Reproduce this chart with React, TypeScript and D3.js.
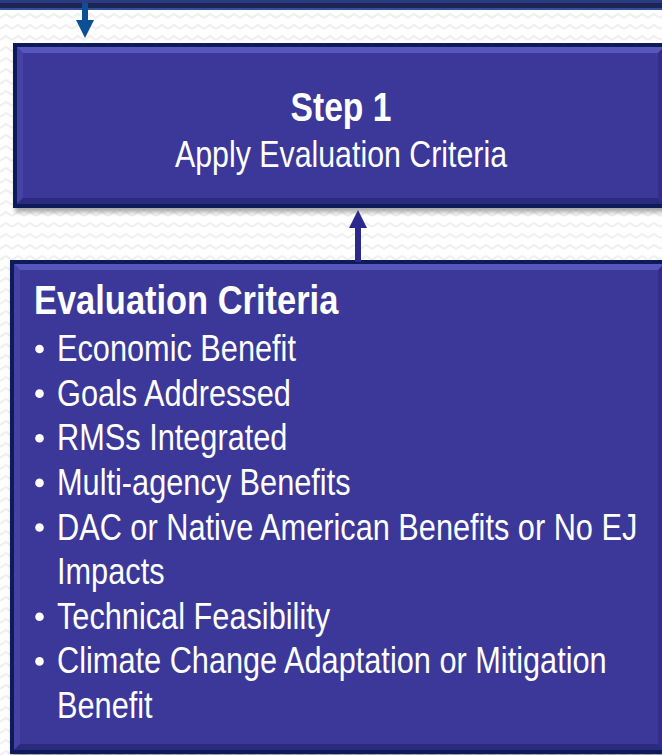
import React, { useEffect, useRef } from 'react';
import * as d3 from 'd3';

const stepTitle = "Step 1";
const stepSubtitle = "Apply Evaluation Criteria";
const criteriaHeading = "Evaluation Criteria";
// each criterion, wrapped the way the slide wraps it
const criteria = [
    ["Economic Benefit"],
    ["Goals Addressed"],
    ["RMSs Integrated"],
    ["Multi-agency Benefits"],
    ["DAC or Native American Benefits or No EJ", "Impacts"],
    ["Technical Feasibility"],
    ["Climate Change Adaptation or Mitigation", "Benefit"],
];

// no narrow font installed, so squeeze Liberation Sans (Arial metrics) sideways
const FONT = "'Liberation Sans', Arial, sans-serif";
const NARROW = 0.82;

function App() {
    const svgRef = useRef<SVGSVGElement>(null);
    const width = 662;
    const height = 755;

    useEffect(() => {
        const svg = d3.select(svgRef.current)
            .attr("width", width)
            .attr("height", height)
            .attr("viewBox", [0, 0, width, height]);

        svg.selectAll("*").remove();

        // background zigzag texture
        const defs = svg.append("defs");
        const pat = defs.append("pattern")
            .attr("id", "zig")
            .attr("width", 12)
            .attr("height", 11)
            .attr("patternUnits", "userSpaceOnUse");
        pat.append("rect").attr("width", 12).attr("height", 11).attr("fill", "#ffffff");
        pat.append("path")
            .attr("d", "M0,7 L6,3 L12,7")
            .attr("fill", "none")
            .attr("stroke", "#efefef")
            .attr("stroke-width", 2);

        const shadow = defs.append("filter").attr("id", "shadow")
            .attr("x", "-5%").attr("y", "-5%").attr("width", "115%").attr("height", "120%");
        shadow.append("feDropShadow")
            .attr("dx", 2).attr("dy", 4).attr("stdDeviation", 2)
            .attr("flood-color", "#000").attr("flood-opacity", 0.35);

        svg.append("rect").attr("width", width).attr("height", height).attr("fill", "url(#zig)");

        // bevelled box
        function box(x0: number, y0: number, x1: number, y1: number) {
            const g = svg.append("g").attr("filter", "url(#shadow)");
            const b = 4; // dark border
            const v = 6; // bevel depth
            g.append("rect")
                .attr("x", x0).attr("y", y0)
                .attr("width", x1 - x0).attr("height", y1 - y0)
                .attr("fill", "#0c1f58");
            const ix0 = x0 + b, iy0 = y0 + b, ix1 = x1 - b, iy1 = y1 - b;
            g.append("rect")
                .attr("x", ix0).attr("y", iy0)
                .attr("width", ix1 - ix0).attr("height", iy1 - iy0)
                .attr("fill", "#3a3899");
            const poly = (pts: number[][], fill: string) =>
                g.append("polygon").attr("points", pts.map(p => p.join(",")).join(" ")).attr("fill", fill);
            poly([[ix0, iy0], [ix1, iy0], [ix1 - v, iy0 + v], [ix0 + v, iy0 + v]], "#5756bd");
            poly([[ix0, iy0], [ix0 + v, iy0 + v], [ix0 + v, iy1 - v], [ix0, iy1]], "#4443a6");
            poly([[ix0, iy1], [ix0 + v, iy1 - v], [ix1 - v, iy1 - v], [ix1, iy1]], "#2b2a7e");
            poly([[ix1, iy0], [ix1, iy1], [ix1 - v, iy1 - v], [ix1 - v, iy0 + v]], "#302f88");
            return g;
        }

        // bottom edge of the previous box
        svg.append("rect").attr("x", 0).attr("y", -10).attr("width", width).attr("height", 20).attr("fill", "#1b2657");
        svg.append("rect").attr("x", 0).attr("y", 0).attr("width", width).attr("height", 3).attr("fill", "#2c3c84");
        svg.append("rect").attr("x", 0).attr("y", 8).attr("width", width).attr("height", 2).attr("fill", "#35509a");

        // arrow into step box
        svg.append("rect").attr("x", 82).attr("y", 3).attr("width", 6).attr("height", 20).attr("fill", "#0d4f94");
        svg.append("polygon").attr("points", "76,20 94,20 85,38").attr("fill", "#0d4f94");

        box(13, 43, 668, 208);
        box(10, 260, 668, 754);

        // arrow from criteria box up to step box
        svg.append("rect").attr("x", 355).attr("y", 226).attr("width", 6).attr("height", 36).attr("fill", "#2b2a8c");
        svg.append("polygon").attr("points", "349,228 367,228 358,210").attr("fill", "#2b2a8c");

        const text = svg.append("g")
            .attr("fill", "#ffffff")
            .style("font-family", FONT);

        const narrow = (x: number, y: number, s = NARROW) => `translate(${x},${y}) scale(${s},1)`;

        text.append("text")
            .attr("transform", narrow(341, 121))
            .attr("text-anchor", "middle")
            .attr("font-weight", "bold")
            .attr("font-size", 41)
            .text(stepTitle);

        text.append("text")
            .attr("transform", narrow(341, 167))
            .attr("text-anchor", "middle")
            .attr("font-size", 37)
            .text(stepSubtitle);

        text.append("text")
            .attr("transform", narrow(34, 314, 0.84))
            .attr("font-weight", "bold")
            .attr("font-size", 41)
            .text(criteriaHeading);

        // flatten wrapped lines, remembering which ones start a bullet
        const lines = criteria.flatMap(c => c.map((t, i) => ({ t, bullet: i === 0 })));
        const y = d3.scaleLinear().domain([0, lines.length - 1]).range([361, 718]);

        text.selectAll("text.crit")
            .data(lines)
            .join("text")
            .attr("class", "crit")
            .attr("transform", (d, i) => narrow(57, y(i), 0.83))
            .attr("font-size", 37)
            .text(d => d.t);

        text.selectAll("circle.bullet")
            .data(lines.map((d, i) => ({ ...d, i })).filter(d => d.bullet))
            .join("circle")
            .attr("class", "bullet")
            .attr("cx", 39.5)
            .attr("cy", d => y(d.i) - 12)
            .attr("r", 4.3);
    }, []);

    return (
        <div style={{ position: "absolute", left: 0, top: 0 }}>
            <svg ref={svgRef} style={{ display: "block" }}></svg>
        </div>
    );
}

export default App;
